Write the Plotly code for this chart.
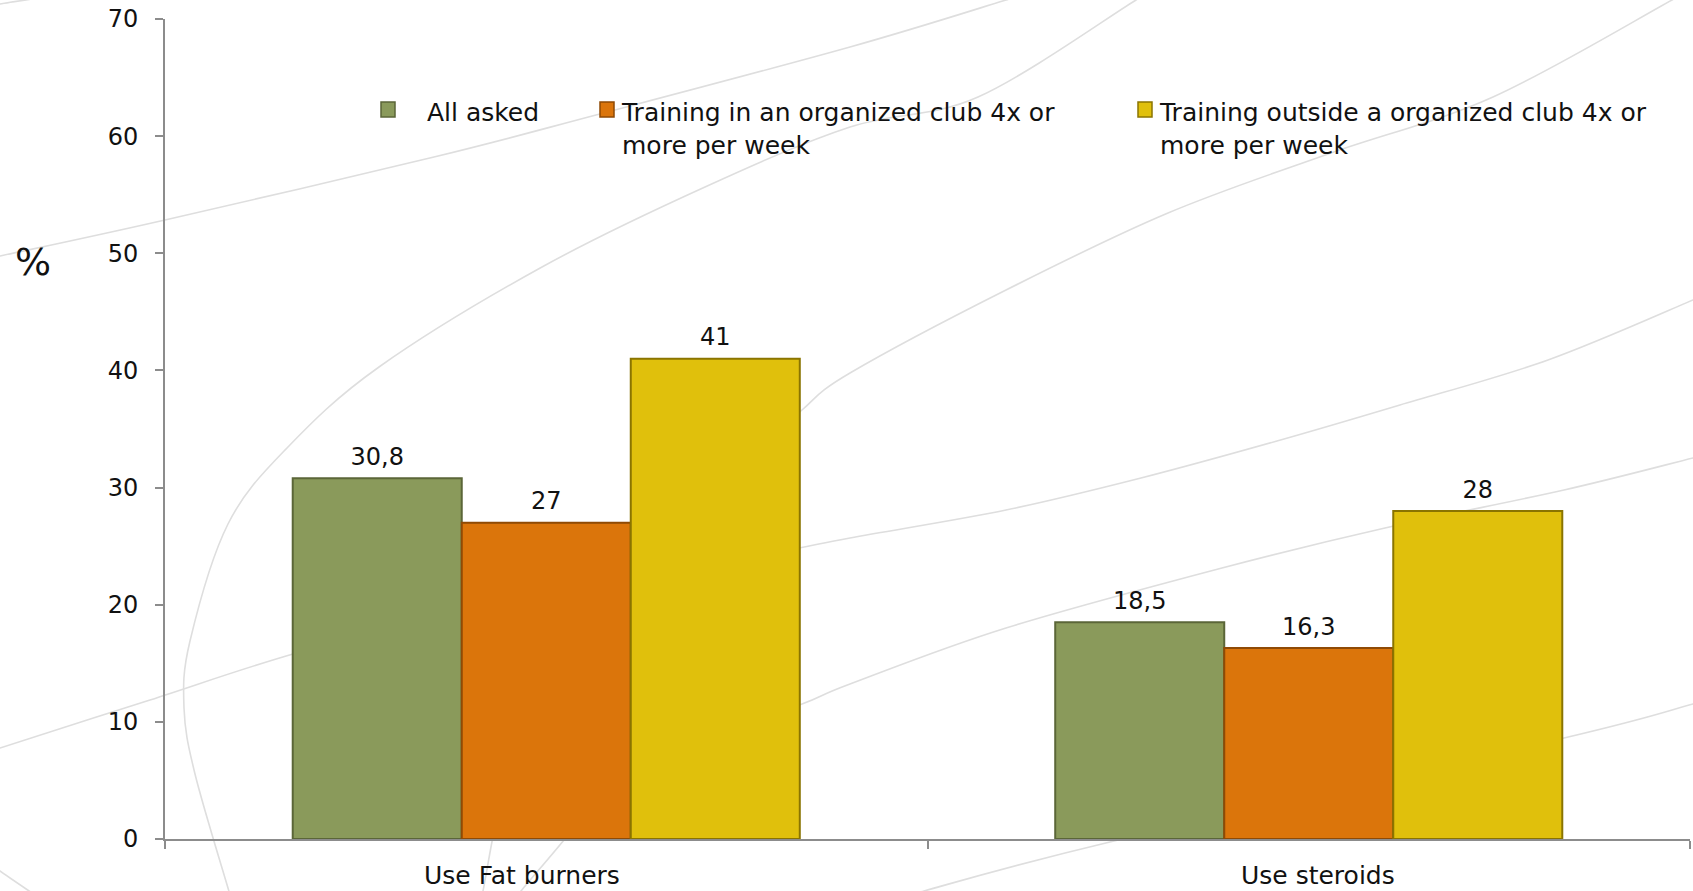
import plotly.graph_objects as go

# ---- data -------------------------------------------------------------
categories = ["Use Fat burners", "Use steroids"]
series_names = [
    "All asked",
    "Training in an organized club 4x or<br>more per week",
    "Training outside a organized club 4x or<br>more per week",
]
all_asked = [30.8, 18.5]
club_4x = [27, 16.3]
outside_club_4x = [41, 28]
y_ticks = [0, 10, 20, 30, 40, 50, 60, 70]

# ---- styling ----------------------------------------------------------
FONT = "DejaVu Sans"
FS = 24
FS_LEGEND = 25
fills = ["#8a9a5b", "#db750b", "#e0c00c"]
edges = ["#5b6638", "#8f4a05", "#8a7400"]
BARGAP = 0.335
category_label_shift = [-24, 9]

W, H = 1693, 891
M_L, M_R, M_T, M_B = 165, 3, 19, 52
PW, PH = W - M_L - M_R, H - M_T - M_B


def to_paper(px, py):
    """Convert page pixels into paper coordinates of the plot area."""
    return (px - M_L) / PW, (H - M_B - py) / PH


def smooth_path(points):
    """Catmull-Rom spline through points, written as an SVG path in paper units."""
    pts = [to_paper(x, y) for x, y in points]
    d = f"M {pts[0][0]:.5f},{pts[0][1]:.5f}"
    n = len(pts)
    for i in range(n - 1):
        p0 = pts[i - 1] if i > 0 else pts[i]
        p1 = pts[i]
        p2 = pts[i + 1]
        p3 = pts[i + 2] if i + 2 < n else pts[i + 1]
        c1 = (p1[0] + (p2[0] - p0[0]) / 6, p1[1] + (p2[1] - p0[1]) / 6)
        c2 = (p2[0] - (p3[0] - p1[0]) / 6, p2[1] - (p3[1] - p1[1]) / 6)
        d += f" C {c1[0]:.5f},{c1[1]:.5f} {c2[0]:.5f},{c2[1]:.5f} {p2[0]:.5f},{p2[1]:.5f}"
    return d


# faint decorative swooshes of the slide background (page pixels)
swooshes = [
    [(-20, 260), (0, 256), (165, 220), (434, 157), (596, 115), (850, 47), (1006, 0), (1030, -8)],
    [(-5, 6), (0, 4), (45, -3)],
    [(232, 900), (228, 888), (195, 774), (184, 708), (190, 641), (228, 524), (287, 448),
     (379, 367), (542, 267), (705, 187), (850, 127), (978, 97), (1136, 0), (1150, -8)],
    [(700, 520), (760, 450), (802, 410), (850, 373), (1006, 290), (1168, 213),
     (1331, 153), (1493, 97), (1672, 0), (1690, -10)],
    [(515, 900), (521, 891), (564, 840), (585, 812)],
    [(480, 900), (483, 891), (491, 847), (500, 800)],
    [(-10, 752), (0, 748), (150, 700), (293, 654), (500, 598)],
    [(760, 556), (850, 538), (1006, 510), (1141, 478), (1277, 441), (1400, 405),
     (1548, 360), (1693, 300), (1710, 292)],
    [(700, 740), (802, 704), (850, 684), (1006, 628), (1222, 568), (1385, 528),
     (1564, 490), (1693, 458), (1710, 454)],
    [(900, 900), (924, 891), (1114, 841), (1564, 738), (1693, 704), (1710, 700)],
    [(-10, 862), (0, 871), (35, 895)],
]

fig = go.Figure()

value_sets = [all_asked, club_4x, outside_club_4x]
for i, (name, vals, fill, edge) in enumerate(zip(series_names, value_sets, fills, edges)):
    fig.add_trace(go.Bar(
        name=name,
        x=categories,
        y=vals,
        offsetgroup=str(i),
        marker=dict(color=fill, line=dict(color=edge, width=2)),
        showlegend=False,
        hoverinfo="skip",
    ))

# value labels sitting above each bar, grouped the same way as the bars
for i, vals in enumerate(value_sets):
    fig.add_trace(go.Scatter(
        x=categories,
        y=vals,
        offsetgroup=str(i),
        mode="markers+text",
        marker=dict(size=10, opacity=0),
        text=[str(v).replace(".", ",") for v in vals],
        textposition="top center",
        textfont=dict(family=FONT, size=FS, color="#111111"),
        cliponaxis=False,
        showlegend=False,
        hoverinfo="skip",
    ))

shapes = []
for pts in swooshes:
    shapes.append(dict(
        type="path", xref="paper", yref="paper", layer="below",
        path=smooth_path(pts),
        line=dict(color="#dedede", width=1.6),
    ))

# legend: square swatches and labels
legend_swatch_x = [381, 600, 1138]
legend_text_x = [425, 619, 1157]
annotations = []
for sx, tx, fill, edge, name in zip(legend_swatch_x, legend_text_x, fills, edges, series_names):
    x0, y0 = to_paper(sx, 117)
    x1, y1 = to_paper(sx + 14, 102)
    shapes.append(dict(
        type="rect", xref="paper", yref="paper", x0=x0, y0=y0, x1=x1, y1=y1,
        fillcolor=fill, line=dict(color=edge, width=1.5),
    ))
    ax, ay = to_paper(tx, 96)
    annotations.append(dict(
        xref="paper", yref="paper", x=ax, y=ay, xanchor="left", yanchor="top",
        text=name, showarrow=False, align="left",
        font=dict(family=FONT, size=FS_LEGEND, color="#111111"),
    ))

# category names under the axis
for cat, shift in zip(categories, category_label_shift):
    annotations.append(dict(
        xref="x", yref="paper", x=cat, y=0, yshift=-21, xshift=shift,
        xanchor="center", yanchor="top", borderpad=0,
        text=cat, showarrow=False,
        font=dict(family=FONT, size=FS_LEGEND, color="#111111"),
    ))

# "%" unit label left of the value axis
px, py = to_paper(33, 262)
annotations.append(dict(
    xref="paper", yref="paper", x=px, y=py, xanchor="center", yanchor="middle",
    text="%", showarrow=False, font=dict(family=FONT, size=38, color="#111111"),
))

fig.update_layout(
    width=W, height=H,
    margin=dict(l=M_L, r=M_R, t=M_T, b=M_B, pad=0),
    paper_bgcolor="white",
    plot_bgcolor="rgba(0,0,0,0)",
    barmode="group",
    bargap=BARGAP,
    bargroupgap=0,
    scattermode="group",
    scattergap=BARGAP,
    showlegend=False,
    separators=",.",
    font=dict(family=FONT, size=FS, color="#111111"),
    shapes=shapes,
    annotations=annotations,
    xaxis=dict(
        type="category",
        automargin=False,
        showline=True, linecolor="#8c8c8c", linewidth=2,
        ticks="outside", tickson="boundaries", ticklen=8, tickcolor="#8c8c8c", tickwidth=2,
        showgrid=False, zeroline=False,
        showticklabels=False,
    ),
    yaxis=dict(
        range=[0, 70],
        automargin=False,
        tickvals=y_ticks,
        showline=True, linecolor="#8c8c8c", linewidth=2,
        ticks="outside", ticklen=8, tickcolor="#8c8c8c", tickwidth=2,
        showgrid=False, zeroline=False,
        tickfont=dict(family=FONT, size=FS, color="#111111"),
        ticklabelstandoff=12,
    ),
)

fig.write_html("out.html")
